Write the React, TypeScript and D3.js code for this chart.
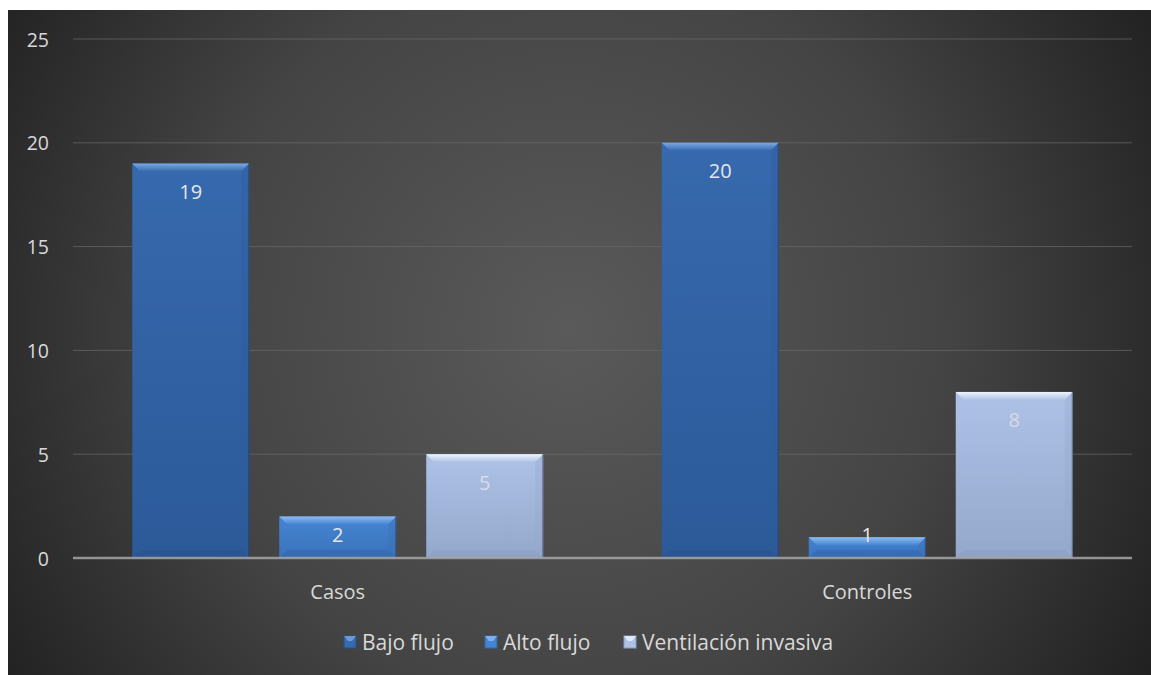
import React, { useEffect } from "react";
import * as d3 from "d3";

const categories = ["Casos", "Controles"];
const seriesNames = ["Bajo flujo", "Alto flujo", "Ventilación invasiva"];
const bajoFlujo = [19, 20];
const altoFlujo = [2, 1];
const ventilacion = [5, 8];
const yTicks = [0, 5, 10, 15, 20, 25];

const seriesValues = [bajoFlujo, altoFlujo, ventilacion];

type Palette = { top: string; bottom: string; hi: string; side: string; dark: string; label: string };
const palettes: Palette[] = [
  { top: "#3769ae", bottom: "#2c5a99", hi: "#7aa8e2", side: "#2f5d9a", dark: "#27508a", label: "#e6e6e6" },
  { top: "#4584d2", bottom: "#3a73bb", hi: "#8fbcf0", side: "#386fb4", dark: "#3266a6", label: "#e6e6e6" },
  { top: "#adc2e6", bottom: "#94a8cc", hi: "#eef4ff", side: "#94a8cb", dark: "#8a9dbf", label: "#d6dbe3" },
];

const OX = 8;
const OY = 10;
const W = 1151 - OX;
const H = 675 - OY;
const FONT = "'Open Sans', 'Noto Sans', sans-serif";

function BevelBar({ x, y, w, h, p, id }: { x: number; y: number; w: number; h: number; p: Palette; id: string }) {
  const b = Math.min(8, h / 2, w / 2);
  const x1 = x + w;
  const y1 = y + h;
  return (
    <g>
      <defs>
        <linearGradient id={`body-${id}`} x1="0" y1="0" x2="0" y2="1">
          <stop offset="0" stopColor={p.top} />
          <stop offset="1" stopColor={p.bottom} />
        </linearGradient>
        <linearGradient id={`hi-${id}`} x1="0" y1="0" x2="0" y2="1">
          <stop offset="0" stopColor={p.hi} />
          <stop offset="1" stopColor={p.top} />
        </linearGradient>
      </defs>
      <rect x={x} y={y} width={w} height={h} fill={`url(#body-${id})`} />
      <polygon points={`${x},${y} ${x1},${y} ${x1 - b},${y + b} ${x + b},${y + b}`} fill={`url(#hi-${id})`} />
      <polygon points={`${x1},${y} ${x1},${y1} ${x1 - b},${y1 - b} ${x1 - b},${y + b}`} fill={p.side} opacity={0.35} />
      <polygon points={`${x},${y1} ${x + b},${y1 - b} ${x1 - b},${y1 - b} ${x1},${y1}`} fill={p.dark} opacity={0.5} />
      <line x1={x1 - 0.5} x2={x1 - 0.5} y1={y} y2={y1} stroke="#1c2a40" strokeOpacity={0.45} />
    </g>
  );
}

export default function App() {
  useEffect(() => {
    document.body.style.margin = `${OY}px 0 0 ${OX}px`;
    document.body.style.overflow = "hidden";
  }, []);

  const plotLeft = 73;
  const plotRight = 1132;
  const y = d3.scaleLinear().domain([0, 25]).range([558, 39]);
  const x0 = d3.scaleBand<string>().domain(categories).range([plotLeft, plotRight]);
  const x1 = d3
    .scaleBand<string>()
    .domain(seriesNames)
    .range([0, x0.bandwidth()])
    .paddingInner(0.204)
    .paddingOuter(0.403);

  const legendItems = [
    { name: seriesNames[0], mx: 344, tx: 362 },
    { name: seriesNames[1], mx: 485, tx: 503 },
    { name: seriesNames[2], mx: 624, tx: 642 },
  ];

  return (
    <svg width={W} height={H} style={{ display: "block" }}>
      <defs>
        <radialGradient id="bg" gradientUnits="userSpaceOnUse" cx={570 - OX} cy={330 - OY} r={680}>
          <stop offset="0" stopColor="#5a5a5a" />
          <stop offset="0.55" stopColor="#444444" />
          <stop offset="1" stopColor="#202020" />
        </radialGradient>
      </defs>
      <rect x={0} y={0} width={W} height={H} fill="url(#bg)" />
      <g transform={`translate(${-OX},${-OY})`}>
        {yTicks.map((t) =>
          t === 0 ? null : (
            <line key={t} x1={plotLeft} x2={plotRight} y1={y(t)} y2={y(t)} stroke="#6a6a6a" strokeOpacity={0.7} strokeWidth={1} />
          )
        )}
        {yTicks.map((t) => (
          <text
            key={`l${t}`}
            x={49}
            y={y(t)}
            textAnchor="end"
            dominantBaseline="central"
            fill="#d9d9d9"
            fontFamily={FONT}
            fontSize={19.5}
          >
            {t}
          </text>
        ))}
        {categories.map((c, ci) =>
          seriesNames.map((s, si) => {
            const v = seriesValues[si][ci];
            const bx = (x0(c) ?? 0) + (x1(s) ?? 0);
            const by = y(v);
            const bw = x1.bandwidth();
            const bh = y(0) - by;
            const ly = Math.min(by + 28, y(0) - 24);
            return (
              <g key={`${c}-${s}`}>
                <BevelBar x={bx} y={by} w={bw} h={bh} p={palettes[si]} id={`${ci}-${si}`} />
                <text
                  x={bx + bw / 2}
                  y={ly}
                  textAnchor="middle"
                  dominantBaseline="central"
                  fill={palettes[si].label}
                  fontFamily={FONT}
                  fontSize={20}
                >
                  {v}
                </text>
              </g>
            );
          })
        )}
        <line x1={plotLeft} x2={plotRight} y1={y(0)} y2={y(0)} stroke="#a6a6a6" strokeOpacity={0.85} strokeWidth={2.5} />
        {categories.map((c) => (
          <text
            key={c}
            x={(x0(c) ?? 0) + x0.bandwidth() / 2}
            y={591}
            textAnchor="middle"
            dominantBaseline="central"
            fill="#d9d9d9"
            fontFamily={FONT}
            fontSize={20}
          >
            {c}
          </text>
        ))}
        {legendItems.map((it, i) => (
          <g key={it.name}>
            <rect x={it.mx} y={636} width={12} height={12} fill={palettes[i].top} stroke={palettes[i].dark} strokeWidth={1} />
            <polygon
              points={`${it.mx},${636} ${it.mx + 12},${636} ${it.mx + 8},${641} ${it.mx + 4},${641}`}
              fill={palettes[i].hi}
              opacity={0.8}
            />
            <text
              x={it.tx}
              y={642}
              dominantBaseline="central"
              fill="#d9d9d9"
              fontFamily={FONT}
              fontSize={21}
            >
              {it.name}
            </text>
          </g>
        ))}
      </g>
    </svg>
  );
}
